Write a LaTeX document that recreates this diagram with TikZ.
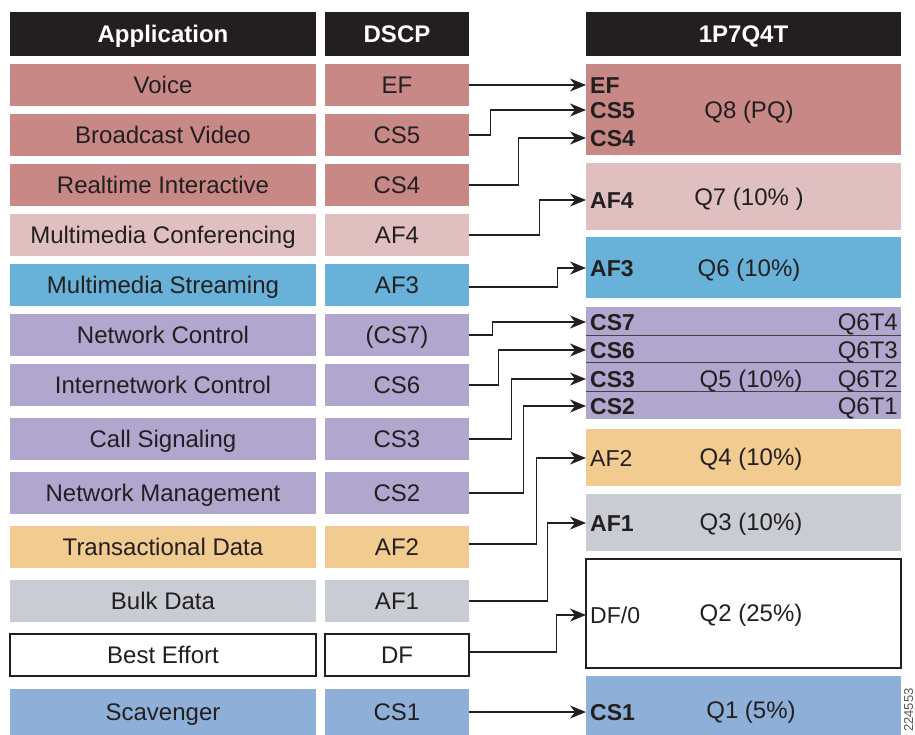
\documentclass[tikz,border=0pt]{standalone}
\usepackage{fontspec}
\setmainfont{Liberation Sans}
\usetikzlibrary{arrows.meta,calc}

\definecolor{ink}{HTML}{231F20}
\definecolor{cRose}{HTML}{C88886}
\definecolor{cPink}{HTML}{E0BFC1}
\definecolor{cSky}{HTML}{68B2D9}
\definecolor{cLav}{HTML}{B0A6CE}
\definecolor{cSand}{HTML}{F2CB90}
\definecolor{cGrey}{HTML}{C9CCD3}
\definecolor{cSteel}{HTML}{8EB0D8}

\begin{document}
\begin{tikzpicture}[x=1pt,y=-1pt,
  every node/.style={font=\fontsize{24}{28}\selectfont, text=ink, inner sep=0pt,
    text height=17.2pt, text depth=0pt},
  cell/.style={minimum height=42pt},
  appcell/.style={cell, minimum width=306pt},
  dscpcell/.style={cell, minimum width=144pt},
  head/.style={fill=ink, text=white, font=\fontsize{24}{28}\selectfont\bfseries, minimum height=44pt},
  outlined/.style={draw=ink, line width=1.3pt},
  qbox/.style={minimum width=315pt},
  tag/.style={anchor=west, inner xsep=4pt, font=\fontsize{23}{28}\selectfont\bfseries},
  tagplain/.style={tag, font=\fontsize{23}{28}\selectfont},
  subq/.style={anchor=east},
  sepline/.style={draw=ink!85, line width=1.1pt},
  link/.style={draw=ink, line width=1.2pt, -{Stealth[length=16pt,width=13pt,inset=5pt]}},
]
\useasboundingbox (0,0) rectangle (915,734);
\clip (0,0) rectangle (915,734);

% column headers
\node[head, minimum width=306pt] (hApp) at (163,34) {Application};
\node[head, minimum width=144pt] (hDscp) at (397,34) {DSCP};
\node[head, minimum width=315pt] (hQ) at (743.5,34) {1P7Q4T};

% application classes and their markings
\node[appcell, fill=cRose] (aVoice) at (163,85) {Voice};
\node[dscpcell, fill=cRose] (dEF) at (397,85) {EF};
\node[appcell, fill=cRose] (aBV) at (163,135) {Broadcast Video};
\node[dscpcell, fill=cRose] (dCS5) at (397,135) {CS5};
\node[appcell, fill=cRose] (aRT) at (163,185) {Realtime Interactive};
\node[dscpcell, fill=cRose] (dCS4) at (397,185) {CS4};
\node[appcell, fill=cPink] (aMC) at (163,235) {Multimedia Conferencing};
\node[dscpcell, fill=cPink] (dAF4) at (397,235) {AF4};
\node[appcell, fill=cSky] (aMS) at (163,285) {Multimedia Streaming};
\node[dscpcell, fill=cSky] (dAF3) at (397,285) {AF3};
\node[appcell, fill=cLav] (aNC) at (163,335) {Network Control};
\node[dscpcell, fill=cLav] (dCS7) at (397,335) {(CS7)};
\node[appcell, fill=cLav] (aIC) at (163,385) {Internetwork Control};
\node[dscpcell, fill=cLav] (dCS6) at (397,385) {CS6};
\node[appcell, fill=cLav] (aCS) at (163,439) {Call Signaling};
\node[dscpcell, fill=cLav] (dCS3) at (397,439) {CS3};
\node[appcell, fill=cLav] (aNM) at (163,493) {Network Management};
\node[dscpcell, fill=cLav] (dCS2) at (397,493) {CS2};
\node[appcell, fill=cSand] (aTD) at (163,547) {Transactional Data};
\node[dscpcell, fill=cSand] (dAF2) at (397,547) {AF2};
\node[appcell, fill=cGrey] (aBD) at (163,601) {Bulk Data};
\node[dscpcell, fill=cGrey] (dAF1) at (397,601) {AF1};
\node[appcell, outlined, fill=white] (aBE) at (163,655) {Best Effort};
\node[dscpcell, outlined, fill=white] (dDF) at (397,655) {DF};
\node[appcell, fill=cSteel, minimum height=46pt] (aSC) at (163,712) {Scavenger};
\node[dscpcell, fill=cSteel, minimum height=46pt] (dCS1) at (397,712) {CS1};

% egress queues
\node[qbox, fill=cRose, minimum height=91pt] (q8) at (743.5,109.5) {};
\node[qbox, fill=cPink, minimum height=67pt] (q7) at (743.5,196.5) {};
\node[qbox, fill=cSky, minimum height=61pt] (q6) at (743.5,267.5) {};
\node[qbox, fill=cLav, minimum height=112pt] (q5) at (743.5,363) {};
\node[qbox, fill=cSand, minimum height=57pt] (q4) at (743.5,457.5) {};
\node[qbox, fill=cGrey, minimum height=57pt] (q3) at (743.5,522.5) {};
\node[qbox, outlined, fill=white, minimum height=109pt] (q2) at (743.5,613.5) {};
\node[qbox, fill=cSteel, minimum height=60pt] (q1) at (743.5,706) {};

% thresholds inside Q5
\draw[sepline] ($(q5.north west)+(0,29)$) -- ($(q5.north east)+(0,29)$);
\draw[sepline] ($(q5.north west)+(0,56)$) -- ($(q5.north east)+(0,56)$);
\draw[sepline] ($(q5.north west)+(0,85)$) -- ($(q5.north east)+(0,85)$);

% queue names
\node (n8) at (749,110) {Q8 (PQ)};
\node (n7) at (749,197) {Q7 (10\% )};
\node (n6) at (749,268) {Q6 (10\%)};
\node (n5) at (751,379) {Q5 (10\%)};
\node (n4) at (751,457) {Q4 (10\%)};
\node (n3) at (751,522) {Q3 (10\%)};
\node (n2) at (751,613) {Q2 (25\%)};
\node (n1) at (751,710) {Q1 (5\%)};
\node[subq] (t4) at (898,322) {Q6T4};
\node[subq] (t3) at (898,350) {Q6T3};
\node[subq] (t2) at (898,379) {Q6T2};
\node[subq] (t1) at (898,406) {Q6T1};

% marking tags at the queue entries
\node[tag] (tEF) at (586,85) {EF};
\node[tag] (tCS5) at (586,110) {CS5};
\node[tag] (tCS4) at (586,138) {CS4};
\node[tag] (tAF4) at (586,200) {AF4};
\node[tag] (tAF3) at (586,268) {AF3};
\node[tag] (tCS7) at (586,322) {CS7};
\node[tag] (tCS6) at (586,350) {CS6};
\node[tag] (tCS3) at (586,379) {CS3};
\node[tag] (tCS2) at (586,406) {CS2};
\node[tagplain] (tAF2) at (586,458) {AF2};
\node[tag] (tAF1) at (586,523) {AF1};
\node[tagplain] (tDF) at (586,615) {DF/0};
\node[tag] (tCS1) at (586,712) {CS1};

% mapping connectors
\draw[link] (dEF.east) -- (tEF.west);
\draw[link] (dCS5.east) -- ++(21,0) |- (tCS5.west);
\draw[link] (dCS4.east) -- ++(49,0) |- (tCS4.west);
\draw[link] (dAF4.east) -- ++(70,0) |- (tAF4.west);
\draw[link] ([yshift=-2pt]dAF3.east) -- ++(88,0) |- (tAF3.west);
\draw[link] (dCS7.east) -- ++(23,0) |- (tCS7.west);
\draw[link] (dCS6.east) -- ++(29,0) |- (tCS6.west);
\draw[link] (dCS3.east) -- ++(42,0) |- (tCS3.west);
\draw[link] (dCS2.east) -- ++(54,0) |- (tCS2.west);
\draw[link] ([yshift=3pt]dAF2.east) -- ++(67,0) |- (tAF2.west);
\draw[link] (dAF1.east) -- ++(78,0) |- (tAF1.west);
\draw[link] ([yshift=3pt]dDF.east) -- ++(87,0) |- (tDF.west);
\draw[link] (dCS1.east) -- (tCS1.west);

% figure number
\node[font=\fontsize{13}{15}\selectfont, text=ink!75, rotate=90, anchor=base west,
  text height=9.5pt] (fig) at (913,732) {224553};
\end{tikzpicture}
\end{document}
